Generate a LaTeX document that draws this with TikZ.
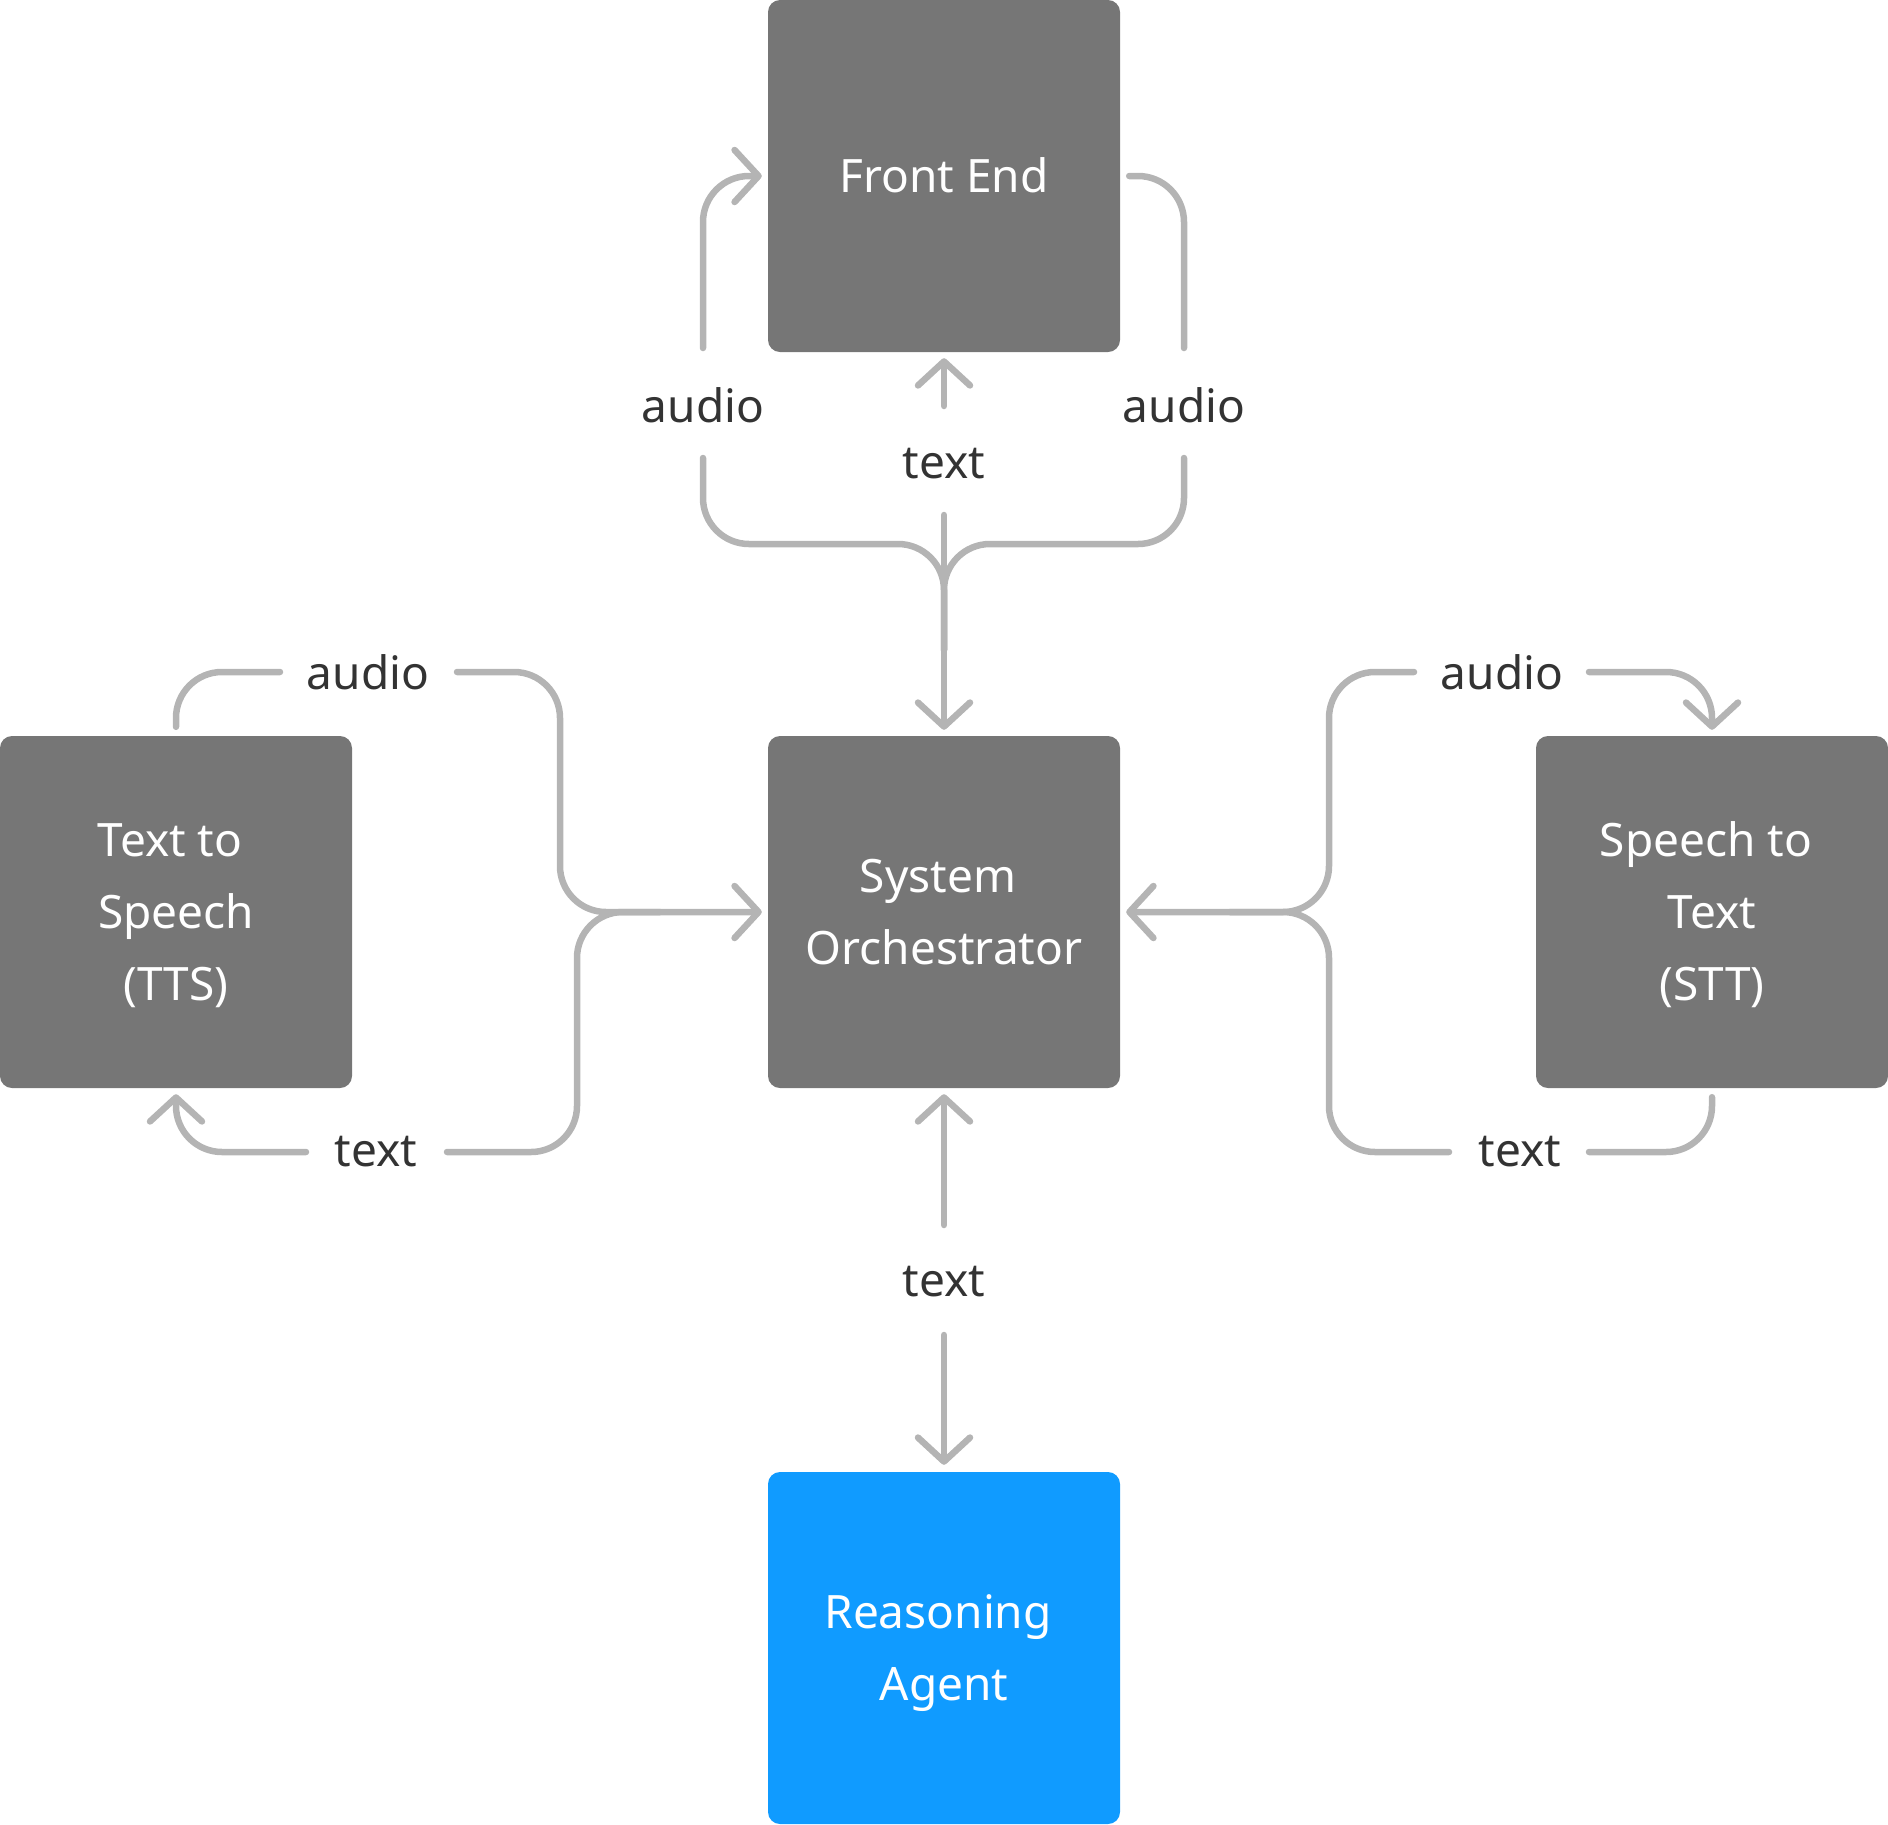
\documentclass[tikz,border=0pt]{standalone}
\usepackage{fontspec}
\setmainfont{Noto Sans}
\usetikzlibrary{arrows.meta}
\definecolor{boxgray}{HTML}{767676}
\definecolor{agentblue}{HTML}{109BFF}
\definecolor{linegray}{HTML}{B4B4B4}
\definecolor{labeltext}{HTML}{333333}
\newcommand{\trsp}{\hspace*{0.26em}}
\newcommand{\lstrut}{\rule[-19.3pt]{0pt}{72pt}}
\begin{document}
\begin{tikzpicture}[x=1pt,y=-1pt,
  box/.style={rectangle, rounded corners=12pt, minimum width=352pt, minimum height=352pt,
    inner sep=0pt, fill=boxgray, text=white, align=center,
    font=\fontsize{46pt}{72pt}\selectfont},
  lbl/.style={inner sep=0pt, text=labeltext, font=\fontsize{46pt}{56pt}\selectfont},
  conn/.style={draw=linegray, line width=6.5pt, line cap=round, line join=round, rounded corners=46pt},
  tip/.style={-{Straight Barb[length=24pt,width=52pt,round]}}
]
\useasboundingbox (0,0) rectangle (1888,1824);

% boxes
\node[box] (fe) at (944,176) {\lstrut Front End};
\node[box] (orch) at (944,912) {\lstrut System\trsp\\\lstrut Orchestrator};
\node[box] (tts) at (176,912) {\lstrut Text to\trsp\\\lstrut Speech\\\lstrut (TTS)};
\node[box] (stt) at (1712,912) {\lstrut Speech to\trsp\\\lstrut Text\\\lstrut (STT)};
\node[box, fill=agentblue] (agent) at (944,1648) {\lstrut Reasoning\trsp\\\lstrut Agent};

% labels
\node[lbl] (fea) at (703,405) {audio};
\node[lbl] (feb) at (1184,405) {audio};
\node[lbl] (fet) at (944,464) {text};
\node[lbl] (ttsa) at (368,672) {audio};
\node[lbl] (ttst) at (376,1152) {text};
\node[lbl] (stta) at (1502,672) {audio};
\node[lbl] (sttt) at (1520,1152) {text};
\node[lbl] (agt) at (944,1282) {text};

% free ends
\coordinate (p1) at (703,348);
\coordinate (p2) at (703,458);
\coordinate (p3) at (1184,458);
\coordinate (p4) at (944,515);
\coordinate (p5) at (944,406);
\coordinate (p6) at (1184,348);
\coordinate (q1) at (280,672);
\coordinate (q2) at (457,672);
\coordinate (q3) at (447,1152);
\coordinate (q4) at (660,912);
\coordinate (q5) at (306,1152);
\coordinate (r1) at (1589,672);
\coordinate (r2) at (1414,672);
\coordinate (r3) at (1449,1152);
\coordinate (r4) at (1230,912);
\coordinate (r5) at (1589,1152);
\coordinate (s1) at (944,1225);
\coordinate (s2) at (944,1335);

% Front End connectors
\draw[conn,tip,shorten >=6pt] (p1) -- (703,176) -- (fe.west);
\draw[conn,shorten <=9pt] (fe.east) -- (1184,176) -- (p6);
\draw[conn,tip,shorten >=6pt] (p5) -- (fe.south);
\draw[conn] (p2) -- (703,544) -- (944,544) -- (944,650);
\draw[conn] (p3) -- (1184,544) -- (944,544) -- (944,650);
\draw[conn,tip,shorten >=6pt] (p4) -- (orch.north);

% TTS connectors
\draw[conn,shorten <=9pt] (tts.north) -- (176,672) -- (q1);
\draw[conn,tip,shorten >=6pt] (q2) -- (560,672) -- (560,912) -- (orch.west);
\draw[conn] (q3) -- (577,1152) -- (577,912) -- (q4);
\draw[conn,tip,shorten >=6pt] (q5) -- (176,1152) -- (tts.south);

% STT connectors
\draw[conn,tip,shorten >=6pt] (r1) -- (1712,672) -- (stt.north);
\draw[conn,tip,shorten >=6pt] (r2) -- (1329,672) -- (1329,912) -- (orch.east);
\draw[conn] (r3) -- (1329,1152) -- (1329,912) -- (r4);
\draw[conn,shorten <=9pt] (stt.south) -- (1712,1152) -- (r5);

% Agent connectors
\draw[conn,tip,shorten >=6pt] (s1) -- (orch.south);
\draw[conn,tip,shorten >=7pt] (s2) -- (agent.north);
\end{tikzpicture}
\end{document}
